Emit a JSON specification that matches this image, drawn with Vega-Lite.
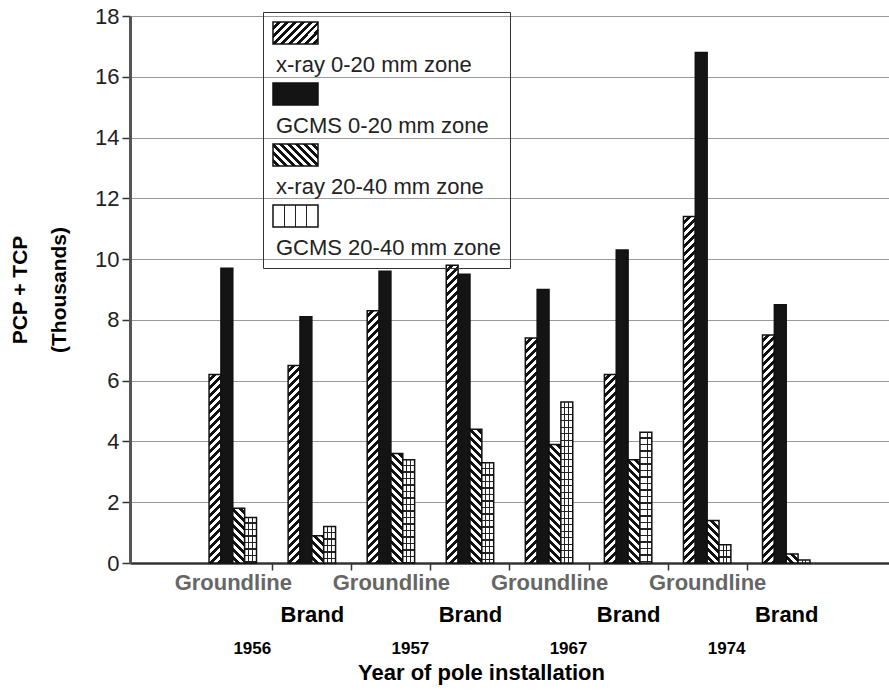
{
  "$schema": "https://vega.github.io/schema/vega-lite/v6.json",
  "width": 759,
  "height": 547,
  "autosize": {"type": "none"},
  "padding": {"left": 130, "top": 16, "right": 0, "bottom": 127},
  "background": "white",
  "config": {"font": "Liberation Sans", "view": {"stroke": null}},
  "params": [
    {"name": "hatch", "value": [
      {"offset":0,"color":"#fff"},{"offset":0.01087,"color":"#fff"},{"offset":0.01087,"color":"#111"},{"offset":0.02174,"color":"#111"},
      {"offset":0.02174,"color":"#fff"},{"offset":0.03261,"color":"#fff"},{"offset":0.03261,"color":"#111"},{"offset":0.04348,"color":"#111"},
      {"offset":0.04348,"color":"#fff"},{"offset":0.05435,"color":"#fff"},{"offset":0.05435,"color":"#111"},{"offset":0.06522,"color":"#111"},
      {"offset":0.06522,"color":"#fff"},{"offset":0.07609,"color":"#fff"},{"offset":0.07609,"color":"#111"},{"offset":0.08696,"color":"#111"},
      {"offset":0.08696,"color":"#fff"},{"offset":0.09783,"color":"#fff"},{"offset":0.09783,"color":"#111"},{"offset":0.1087,"color":"#111"},
      {"offset":0.1087,"color":"#fff"},{"offset":0.11957,"color":"#fff"},{"offset":0.11957,"color":"#111"},{"offset":0.13043,"color":"#111"},
      {"offset":0.13043,"color":"#fff"},{"offset":0.1413,"color":"#fff"},{"offset":0.1413,"color":"#111"},{"offset":0.15217,"color":"#111"},
      {"offset":0.15217,"color":"#fff"},{"offset":0.16304,"color":"#fff"},{"offset":0.16304,"color":"#111"},{"offset":0.17391,"color":"#111"},
      {"offset":0.17391,"color":"#fff"},{"offset":0.18478,"color":"#fff"},{"offset":0.18478,"color":"#111"},{"offset":0.19565,"color":"#111"},
      {"offset":0.19565,"color":"#fff"},{"offset":0.20652,"color":"#fff"},{"offset":0.20652,"color":"#111"},{"offset":0.21739,"color":"#111"},
      {"offset":0.21739,"color":"#fff"},{"offset":0.22826,"color":"#fff"},{"offset":0.22826,"color":"#111"},{"offset":0.23913,"color":"#111"},
      {"offset":0.23913,"color":"#fff"},{"offset":0.25,"color":"#fff"},{"offset":0.25,"color":"#111"},{"offset":0.26087,"color":"#111"},
      {"offset":0.26087,"color":"#fff"},{"offset":0.27174,"color":"#fff"},{"offset":0.27174,"color":"#111"},{"offset":0.28261,"color":"#111"},
      {"offset":0.28261,"color":"#fff"},{"offset":0.29348,"color":"#fff"},{"offset":0.29348,"color":"#111"},{"offset":0.30435,"color":"#111"},
      {"offset":0.30435,"color":"#fff"},{"offset":0.31522,"color":"#fff"},{"offset":0.31522,"color":"#111"},{"offset":0.32609,"color":"#111"},
      {"offset":0.32609,"color":"#fff"},{"offset":0.33696,"color":"#fff"},{"offset":0.33696,"color":"#111"},{"offset":0.34783,"color":"#111"},
      {"offset":0.34783,"color":"#fff"},{"offset":0.3587,"color":"#fff"},{"offset":0.3587,"color":"#111"},{"offset":0.36957,"color":"#111"},
      {"offset":0.36957,"color":"#fff"},{"offset":0.38043,"color":"#fff"},{"offset":0.38043,"color":"#111"},{"offset":0.3913,"color":"#111"},
      {"offset":0.3913,"color":"#fff"},{"offset":0.40217,"color":"#fff"},{"offset":0.40217,"color":"#111"},{"offset":0.41304,"color":"#111"},
      {"offset":0.41304,"color":"#fff"},{"offset":0.42391,"color":"#fff"},{"offset":0.42391,"color":"#111"},{"offset":0.43478,"color":"#111"},
      {"offset":0.43478,"color":"#fff"},{"offset":0.44565,"color":"#fff"},{"offset":0.44565,"color":"#111"},{"offset":0.45652,"color":"#111"},
      {"offset":0.45652,"color":"#fff"},{"offset":0.46739,"color":"#fff"},{"offset":0.46739,"color":"#111"},{"offset":0.47826,"color":"#111"},
      {"offset":0.47826,"color":"#fff"},{"offset":0.48913,"color":"#fff"},{"offset":0.48913,"color":"#111"},{"offset":0.5,"color":"#111"},
      {"offset":0.5,"color":"#fff"},{"offset":0.51087,"color":"#fff"},{"offset":0.51087,"color":"#111"},{"offset":0.52174,"color":"#111"},
      {"offset":0.52174,"color":"#fff"},{"offset":0.53261,"color":"#fff"},{"offset":0.53261,"color":"#111"},{"offset":0.54348,"color":"#111"},
      {"offset":0.54348,"color":"#fff"},{"offset":0.55435,"color":"#fff"},{"offset":0.55435,"color":"#111"},{"offset":0.56522,"color":"#111"},
      {"offset":0.56522,"color":"#fff"},{"offset":0.57609,"color":"#fff"},{"offset":0.57609,"color":"#111"},{"offset":0.58696,"color":"#111"},
      {"offset":0.58696,"color":"#fff"},{"offset":0.59783,"color":"#fff"},{"offset":0.59783,"color":"#111"},{"offset":0.6087,"color":"#111"},
      {"offset":0.6087,"color":"#fff"},{"offset":0.61957,"color":"#fff"},{"offset":0.61957,"color":"#111"},{"offset":0.63043,"color":"#111"},
      {"offset":0.63043,"color":"#fff"},{"offset":0.6413,"color":"#fff"},{"offset":0.6413,"color":"#111"},{"offset":0.65217,"color":"#111"},
      {"offset":0.65217,"color":"#fff"},{"offset":0.66304,"color":"#fff"},{"offset":0.66304,"color":"#111"},{"offset":0.67391,"color":"#111"},
      {"offset":0.67391,"color":"#fff"},{"offset":0.68478,"color":"#fff"},{"offset":0.68478,"color":"#111"},{"offset":0.69565,"color":"#111"},
      {"offset":0.69565,"color":"#fff"},{"offset":0.70652,"color":"#fff"},{"offset":0.70652,"color":"#111"},{"offset":0.71739,"color":"#111"},
      {"offset":0.71739,"color":"#fff"},{"offset":0.72826,"color":"#fff"},{"offset":0.72826,"color":"#111"},{"offset":0.73913,"color":"#111"},
      {"offset":0.73913,"color":"#fff"},{"offset":0.75,"color":"#fff"},{"offset":0.75,"color":"#111"},{"offset":0.76087,"color":"#111"},
      {"offset":0.76087,"color":"#fff"},{"offset":0.77174,"color":"#fff"},{"offset":0.77174,"color":"#111"},{"offset":0.78261,"color":"#111"},
      {"offset":0.78261,"color":"#fff"},{"offset":0.79348,"color":"#fff"},{"offset":0.79348,"color":"#111"},{"offset":0.80435,"color":"#111"},
      {"offset":0.80435,"color":"#fff"},{"offset":0.81522,"color":"#fff"},{"offset":0.81522,"color":"#111"},{"offset":0.82609,"color":"#111"},
      {"offset":0.82609,"color":"#fff"},{"offset":0.83696,"color":"#fff"},{"offset":0.83696,"color":"#111"},{"offset":0.84783,"color":"#111"},
      {"offset":0.84783,"color":"#fff"},{"offset":0.8587,"color":"#fff"},{"offset":0.8587,"color":"#111"},{"offset":0.86957,"color":"#111"},
      {"offset":0.86957,"color":"#fff"},{"offset":0.88043,"color":"#fff"},{"offset":0.88043,"color":"#111"},{"offset":0.8913,"color":"#111"},
      {"offset":0.8913,"color":"#fff"},{"offset":0.90217,"color":"#fff"},{"offset":0.90217,"color":"#111"},{"offset":0.91304,"color":"#111"},
      {"offset":0.91304,"color":"#fff"},{"offset":0.92391,"color":"#fff"},{"offset":0.92391,"color":"#111"},{"offset":0.93478,"color":"#111"},
      {"offset":0.93478,"color":"#fff"},{"offset":0.94565,"color":"#fff"},{"offset":0.94565,"color":"#111"},{"offset":0.95652,"color":"#111"},
      {"offset":0.95652,"color":"#fff"},{"offset":0.96739,"color":"#fff"},{"offset":0.96739,"color":"#111"},{"offset":0.97826,"color":"#111"},
      {"offset":0.97826,"color":"#fff"},{"offset":0.98913,"color":"#fff"},{"offset":0.98913,"color":"#111"},{"offset":1,"color":"#111"}
    ]},
    {"name": "gridh", "value": [
      {"offset":0,"color":"#fff"},{"offset":0.03,"color":"#fff"},{"offset":0.03,"color":"#222"},{"offset":0.03846,"color":"#222"},
      {"offset":0.03846,"color":"#fff"},{"offset":0.06846,"color":"#fff"},{"offset":0.06846,"color":"#222"},{"offset":0.07692,"color":"#222"},
      {"offset":0.07692,"color":"#fff"},{"offset":0.10692,"color":"#fff"},{"offset":0.10692,"color":"#222"},{"offset":0.11538,"color":"#222"},
      {"offset":0.11538,"color":"#fff"},{"offset":0.14538,"color":"#fff"},{"offset":0.14538,"color":"#222"},{"offset":0.15385,"color":"#222"},
      {"offset":0.15385,"color":"#fff"},{"offset":0.18385,"color":"#fff"},{"offset":0.18385,"color":"#222"},{"offset":0.19231,"color":"#222"},
      {"offset":0.19231,"color":"#fff"},{"offset":0.22231,"color":"#fff"},{"offset":0.22231,"color":"#222"},{"offset":0.23077,"color":"#222"},
      {"offset":0.23077,"color":"#fff"},{"offset":0.26077,"color":"#fff"},{"offset":0.26077,"color":"#222"},{"offset":0.26923,"color":"#222"},
      {"offset":0.26923,"color":"#fff"},{"offset":0.29923,"color":"#fff"},{"offset":0.29923,"color":"#222"},{"offset":0.30769,"color":"#222"},
      {"offset":0.30769,"color":"#fff"},{"offset":0.33769,"color":"#fff"},{"offset":0.33769,"color":"#222"},{"offset":0.34615,"color":"#222"},
      {"offset":0.34615,"color":"#fff"},{"offset":0.37615,"color":"#fff"},{"offset":0.37615,"color":"#222"},{"offset":0.38462,"color":"#222"},
      {"offset":0.38462,"color":"#fff"},{"offset":0.41462,"color":"#fff"},{"offset":0.41462,"color":"#222"},{"offset":0.42308,"color":"#222"},
      {"offset":0.42308,"color":"#fff"},{"offset":0.45308,"color":"#fff"},{"offset":0.45308,"color":"#222"},{"offset":0.46154,"color":"#222"},
      {"offset":0.46154,"color":"#fff"},{"offset":0.49154,"color":"#fff"},{"offset":0.49154,"color":"#222"},{"offset":0.5,"color":"#222"},
      {"offset":0.5,"color":"#fff"},{"offset":0.53,"color":"#fff"},{"offset":0.53,"color":"#222"},{"offset":0.53846,"color":"#222"},
      {"offset":0.53846,"color":"#fff"},{"offset":0.56846,"color":"#fff"},{"offset":0.56846,"color":"#222"},{"offset":0.57692,"color":"#222"},
      {"offset":0.57692,"color":"#fff"},{"offset":0.60692,"color":"#fff"},{"offset":0.60692,"color":"#222"},{"offset":0.61538,"color":"#222"},
      {"offset":0.61538,"color":"#fff"},{"offset":0.64538,"color":"#fff"},{"offset":0.64538,"color":"#222"},{"offset":0.65385,"color":"#222"},
      {"offset":0.65385,"color":"#fff"},{"offset":0.68385,"color":"#fff"},{"offset":0.68385,"color":"#222"},{"offset":0.69231,"color":"#222"},
      {"offset":0.69231,"color":"#fff"},{"offset":0.72231,"color":"#fff"},{"offset":0.72231,"color":"#222"},{"offset":0.73077,"color":"#222"},
      {"offset":0.73077,"color":"#fff"},{"offset":0.76077,"color":"#fff"},{"offset":0.76077,"color":"#222"},{"offset":0.76923,"color":"#222"},
      {"offset":0.76923,"color":"#fff"},{"offset":0.79923,"color":"#fff"},{"offset":0.79923,"color":"#222"},{"offset":0.80769,"color":"#222"},
      {"offset":0.80769,"color":"#fff"},{"offset":0.83769,"color":"#fff"},{"offset":0.83769,"color":"#222"},{"offset":0.84615,"color":"#222"},
      {"offset":0.84615,"color":"#fff"},{"offset":0.87615,"color":"#fff"},{"offset":0.87615,"color":"#222"},{"offset":0.88462,"color":"#222"},
      {"offset":0.88462,"color":"#fff"},{"offset":0.91462,"color":"#fff"},{"offset":0.91462,"color":"#222"},{"offset":0.92308,"color":"#222"},
      {"offset":0.92308,"color":"#fff"},{"offset":0.95308,"color":"#fff"},{"offset":0.95308,"color":"#222"},{"offset":0.96154,"color":"#222"},
      {"offset":0.96154,"color":"#fff"},{"offset":0.99154,"color":"#fff"},{"offset":0.99154,"color":"#222"},{"offset":1,"color":"#222"}
    ]},
    {"name": "lgrid", "value": [
      {"offset": 0, "color": "#fff"}, {"offset": 0.24, "color": "#fff"}, {"offset": 0.24, "color": "#222"}, {"offset": 0.265, "color": "#222"},
      {"offset": 0.265, "color": "#fff"}, {"offset": 0.49, "color": "#fff"}, {"offset": 0.49, "color": "#222"}, {"offset": 0.515, "color": "#222"},
      {"offset": 0.515, "color": "#fff"}, {"offset": 0.74, "color": "#fff"}, {"offset": 0.74, "color": "#222"}, {"offset": 0.765, "color": "#222"},
      {"offset": 0.765, "color": "#fff"}, {"offset": 1, "color": "#fff"}
    ]}
  ],
  "data": {"values": [
    {"cat": "1956 Groundline", "series": "x-ray 0-20 mm zone", "v": 6.2},
    {"cat": "1956 Groundline", "series": "GCMS 0-20 mm zone", "v": 9.7},
    {"cat": "1956 Groundline", "series": "x-ray 20-40 mm zone", "v": 1.8},
    {"cat": "1956 Groundline", "series": "GCMS 20-40 mm zone", "v": 1.5},
    {"cat": "1956 Brand", "series": "x-ray 0-20 mm zone", "v": 6.5},
    {"cat": "1956 Brand", "series": "GCMS 0-20 mm zone", "v": 8.1},
    {"cat": "1956 Brand", "series": "x-ray 20-40 mm zone", "v": 0.9},
    {"cat": "1956 Brand", "series": "GCMS 20-40 mm zone", "v": 1.2},
    {"cat": "1957 Groundline", "series": "x-ray 0-20 mm zone", "v": 8.3},
    {"cat": "1957 Groundline", "series": "GCMS 0-20 mm zone", "v": 9.6},
    {"cat": "1957 Groundline", "series": "x-ray 20-40 mm zone", "v": 3.6},
    {"cat": "1957 Groundline", "series": "GCMS 20-40 mm zone", "v": 3.4},
    {"cat": "1957 Brand", "series": "x-ray 0-20 mm zone", "v": 9.8},
    {"cat": "1957 Brand", "series": "GCMS 0-20 mm zone", "v": 9.5},
    {"cat": "1957 Brand", "series": "x-ray 20-40 mm zone", "v": 4.4},
    {"cat": "1957 Brand", "series": "GCMS 20-40 mm zone", "v": 3.3},
    {"cat": "1967 Groundline", "series": "x-ray 0-20 mm zone", "v": 7.4},
    {"cat": "1967 Groundline", "series": "GCMS 0-20 mm zone", "v": 9.0},
    {"cat": "1967 Groundline", "series": "x-ray 20-40 mm zone", "v": 3.9},
    {"cat": "1967 Groundline", "series": "GCMS 20-40 mm zone", "v": 5.3},
    {"cat": "1967 Brand", "series": "x-ray 0-20 mm zone", "v": 6.2},
    {"cat": "1967 Brand", "series": "GCMS 0-20 mm zone", "v": 10.3},
    {"cat": "1967 Brand", "series": "x-ray 20-40 mm zone", "v": 3.4},
    {"cat": "1967 Brand", "series": "GCMS 20-40 mm zone", "v": 4.3},
    {"cat": "1974 Groundline", "series": "x-ray 0-20 mm zone", "v": 11.4},
    {"cat": "1974 Groundline", "series": "GCMS 0-20 mm zone", "v": 16.8},
    {"cat": "1974 Groundline", "series": "x-ray 20-40 mm zone", "v": 1.4},
    {"cat": "1974 Groundline", "series": "GCMS 20-40 mm zone", "v": 0.6},
    {"cat": "1974 Brand", "series": "x-ray 0-20 mm zone", "v": 7.5},
    {"cat": "1974 Brand", "series": "GCMS 0-20 mm zone", "v": 8.5},
    {"cat": "1974 Brand", "series": "x-ray 20-40 mm zone", "v": 0.3},
    {"cat": "1974 Brand", "series": "GCMS 20-40 mm zone", "v": 0.1}
  ]},
  "layer": [
    {
      "mark": {"type": "bar", "stroke": "#111", "strokeWidth": 1.5},
      "encoding": {
        "x": {
          "field": "cat", "type": "nominal",
          "scale": {"domain": ["1956 Groundline", "1956 Brand", "1957 Groundline", "1957 Brand", "1967 Groundline", "1967 Brand", "1974 Groundline", "1974 Brand"], "paddingInner": 0.4, "paddingOuter": 1.0},
          "axis": {
            "orient": "bottom", "title": null, "grid": false,
            "labelExpr": "split(datum.value, ' ')[1]",
            "labelAngle": 0, "labelFontSize": 22, "labelFontWeight": "bold",
            "labelColor": {"condition": {"test": "indexof(datum.value, 'Brand') >= 0", "value": "#000"}, "value": "#666"},
            "labelPadding": {"condition": {"test": "indexof(datum.value, 'Brand') >= 0", "value": 34}, "value": 2},
            "labelOffset": -39.5,
            "labelOverlap": false, "labelBound": false, "labelLimit": 0,
            "domainColor": "#333", "domainWidth": 2.5,
            "tickColor": "#333", "tickWidth": 1.5, "tickSize": 7, "tickOffset": 39.5,
            "tickOpacity": {"condition": {"test": "datum.value === '1974 Brand'", "value": 0}, "value": 1}
          }
        },
        "xOffset": {
          "field": "series", "type": "nominal",
          "scale": {"domain": ["x-ray 0-20 mm zone", "GCMS 0-20 mm zone", "x-ray 20-40 mm zone", "GCMS 20-40 mm zone"], "paddingInner": 0, "paddingOuter": 0}
        },
        "y": {
          "field": "v", "type": "quantitative", "stack": null,
          "scale": {"domain": [0, 18], "nice": false},
          "axis": {
            "title": ["PCP + TCP", "(Thousands)"], "titleFontSize": 21, "titleFontWeight": "bold", "titleColor": "#000",
            "titleLineHeight": 39, "titlePadding": 25,
            "values": [0, 2, 4, 6, 8, 10, 12, 14, 16, 18],
            "labelFontSize": 22, "labelColor": "#222", "labelPadding": 3,
            "tickSize": 8, "tickColor": "#333", "tickWidth": 1.5,
            "domainColor": "#555", "domainWidth": 3,
            "grid": true, "gridColor": "#999", "gridWidth": 1
          }
        },
        "fill": {
          "field": "series", "type": "nominal",
          "scale": {
            "domain": ["x-ray 0-20 mm zone", "GCMS 0-20 mm zone", "x-ray 20-40 mm zone", "GCMS 20-40 mm zone"],
            "range": [
              {"expr": "{gradient: 'linear', x1: 0, y1: 0, x2: 6.6, y2: 3.227, stops: hatch}"},
              "#141414",
              {"expr": "{gradient: 'linear', x1: 0, y1: 1, x2: 6.6, y2: -2.227, stops: hatch}"},
              {"expr": "{gradient: 'linear', x1: 0, y1: 0, x2: 1, y2: 0, stops: lgrid}"}
            ]
          },
          "condition": {
            "test": "datum.series !== 'GCMS 0-20 mm zone'",
            "value": {"expr": "datum.series === 'GCMS 20-40 mm zone' ? {gradient: 'linear', x1: 0, y1: 0, x2: 0, y2: 169 / max(1, scale('y', 0) - scale('y', datum.v)), stops: gridh} : datum.series === 'x-ray 0-20 mm zone' ? {gradient: 'linear', x1: 0, y1: 0, x2: 368 * bandwidth('xOffset') / (pow(bandwidth('xOffset'), 2) + pow(max(1, scale('y', 0) - scale('y', datum.v)), 2)), y2: 368 * max(1, scale('y', 0) - scale('y', datum.v)) / (pow(bandwidth('xOffset'), 2) + pow(max(1, scale('y', 0) - scale('y', datum.v)), 2)), stops: hatch} : {gradient: 'linear', x1: 0, y1: 1, x2: 368 * bandwidth('xOffset') / (pow(bandwidth('xOffset'), 2) + pow(max(1, scale('y', 0) - scale('y', datum.v)), 2)), y2: 1 - 368 * max(1, scale('y', 0) - scale('y', datum.v)) / (pow(bandwidth('xOffset'), 2) + pow(max(1, scale('y', 0) - scale('y', datum.v)), 2)), stops: hatch}"}
          },
          "legend": {
            "orient": "none", "legendX": 133, "legendY": -4, "title": null,
            "symbolType": "M-1,-1H1V-0.022H-1Z", "symbolSize": 2025,
            "symbolStrokeColor": "#111", "symbolStrokeWidth": 1.5,
            "labelFontSize": 22, "labelColor": "#222", "labelLimit": 0, "labelOffset": 0,
            "rowPadding": 4, "padding": 9, "strokeColor": "#333",
            "encode": {
              "symbols": {"update": {
                "stroke": {"value": "#111"},
                "strokeWidth": {"value": 1.5},
                "opacity": {"value": 1},
                "fillOpacity": {"value": 1},
                "strokeOpacity": {"value": 1}
              }},
              "labels": {"update": {"dx": {"value": -43}, "dy": {"value": 20}}}
            }
          }
        }
      }
    },
    {
      "transform": [{"filter": "datum.series === 'GCMS 20-40 mm zone'"}],
      "mark": {"type": "bar", "strokeWidth": 0, "fill": {"gradient": "linear", "x1": 0, "y1": 0, "x2": 1, "y2": 0, "stops": [
        {"offset": 0, "color": "transparent"}, {"offset": 0.3, "color": "transparent"}, {"offset": 0.3, "color": "#222"}, {"offset": 0.38, "color": "#222"},
        {"offset": 0.38, "color": "transparent"}, {"offset": 0.62, "color": "transparent"}, {"offset": 0.62, "color": "#222"}, {"offset": 0.7, "color": "#222"},
        {"offset": 0.7, "color": "transparent"}, {"offset": 1, "color": "transparent"}]}},
      "encoding": {
        "x": {"field": "cat", "type": "nominal", "axis": null},
        "xOffset": {"field": "series", "type": "nominal"},
        "y": {"field": "v", "type": "quantitative", "stack": null}
      }
    },
    {
      "mark": {"type": "point", "opacity": 0},
      "encoding": {
        "x": {
          "field": "cat", "type": "nominal",
          "axis": {
            "orient": "bottom", "grid": false, "ticks": false, "domain": false,
            "labelExpr": "indexof(datum.value, 'Groundline') >= 0 ? split(datum.value, ' ')[0] : ''",
            "labelAngle": 0, "labelFontSize": 17, "labelFontWeight": "bold", "labelColor": "#000",
            "labelPadding": 77, "labelOffset": 19.5, "labelOverlap": false, "labelBound": false,
            "title": "Year of pole installation", "titleFontSize": 22, "titleFontWeight": "bold", "titleColor": "#000",
            "titlePadding": 6, "titleX": 351
          }
        },
        "y": {"field": "v", "type": "quantitative", "stack": null}
      }
    }
  ],
  "resolve": {"axis": {"x": "independent"}}
}
